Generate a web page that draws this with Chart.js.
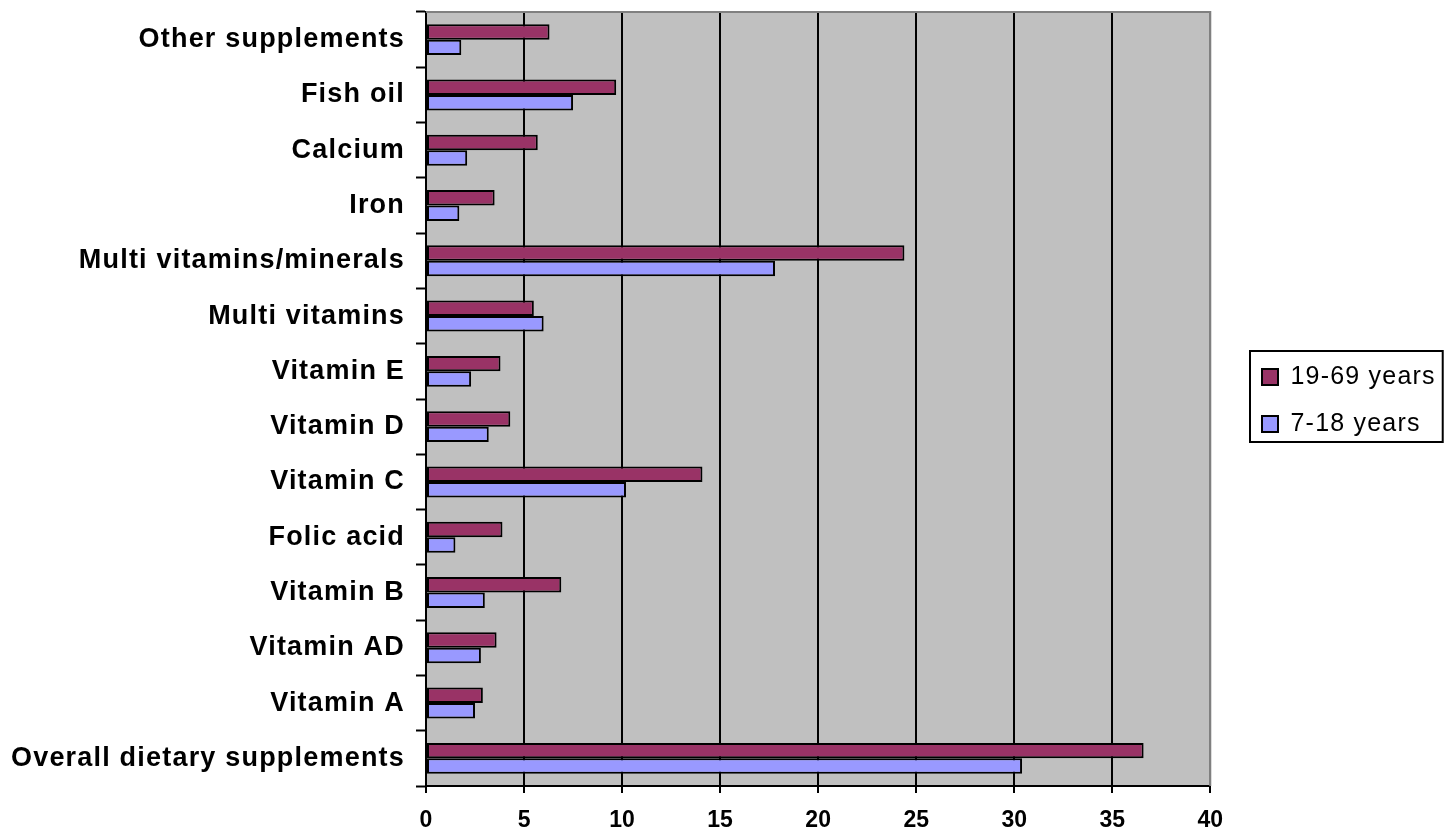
<!DOCTYPE html>
<html>
<head>
<meta charset="utf-8">
<script src="https://cdn.jsdelivr.net/npm/chart.js@4/dist/chart.umd.min.js"></script>
<style>
  html, body { margin: 0; padding: 0; background: #fff; }
  #wrap { width: 1450px; height: 837px; }
</style>
</head>
<body>
<div id="wrap"><canvas id="chart" width="1450" height="837"></canvas></div>
<script>
// Supplement categories, listed top to bottom
const categories = [
  'Other supplements', 'Fish oil', 'Calcium', 'Iron', 'Multi vitamins/minerals',
  'Multi vitamins', 'Vitamin E', 'Vitamin D', 'Vitamin C', 'Folic acid',
  'Vitamin B', 'Vitamin AD', 'Vitamin A', 'Overall dietary supplements'
];
// Percentage of users per age group
const adults = [6.3, 9.7, 5.7, 3.5, 24.4, 5.5, 3.8, 4.3, 14.1, 3.9, 6.9, 3.6, 2.9, 36.6];
const youth  = [1.8, 7.5, 2.1, 1.7, 17.8, 6.0, 2.3, 3.2, 10.2, 1.5, 3.0, 2.8, 2.5, 30.4];
const seriesNames = ['19-69 years', '7-18 years'];
// Value axis
const axisMin = 0, axisMax = 40, axisStep = 5;

const FONT = "'Liberation Sans', Arial, sans-serif";
Chart.defaults.color = '#000';
Chart.defaults.font.family = FONT;

// Wide tracking for category and legend labels, normal tracking for the value labels
const tracking = {
  id: 'tracking',
  beforeLayout(chart) { chart.ctx.letterSpacing = '1.2px'; },
  beforeDraw(chart) { chart.ctx.letterSpacing = '1.2px'; },
  afterDatasetsDraw(chart) { chart.ctx.letterSpacing = '0px'; }
};

// Grey plot area with a grey frame on top and right
const plotArea = {
  id: 'plotArea',
  beforeDraw(chart) {
    const { ctx, chartArea: a } = chart;
    ctx.save();
    ctx.fillStyle = '#C0C0C0';
    ctx.fillRect(a.left, a.top, a.right - a.left, a.bottom - a.top);
    ctx.restore();
  },
  afterDraw(chart) {
    const { ctx, chartArea: a } = chart;
    ctx.save();
    ctx.strokeStyle = '#808080';
    ctx.lineWidth = 2;
    ctx.beginPath();
    ctx.moveTo(a.left, a.top);
    ctx.lineTo(a.right, a.top);
    ctx.lineTo(a.right, a.bottom);
    ctx.stroke();
    ctx.restore();
  }
};

// Place the legend beside the plot and frame it
const legendFrame = {
  id: 'legendFrame',
  afterLayout(chart) {
    const lg = chart.legend;
    const w = lg.width, h = lg.height;
    lg.left = 1240; lg.right = lg.left + w;
    lg.top = 342.5; lg.bottom = lg.top + h;
  },
  afterDraw(chart) {
    const lg = chart.legend;
    const pad = lg.options.labels.padding;
    const fs = lg.options.labels.font.size;
    const maxW = Math.max(...lg.legendHitBoxes.map(b => b.width));
    const c1 = lg.top + pad + fs / 2;
    const c2 = c1 + fs + pad;
    const x0 = lg.left + 10, x1 = lg.left + pad + maxW + 7;
    const y0 = c1 - 26, y1 = c2 + 18;
    const ctx = chart.ctx;
    ctx.save();
    ctx.strokeStyle = '#000';
    ctx.lineWidth = 2;
    ctx.strokeRect(x0, y0, x1 - x0, y1 - y0);
    ctx.restore();
  }
};

new Chart(document.getElementById('chart'), {
  type: 'bar',
  data: {
    labels: categories,
    datasets: [
      { label: seriesNames[0], data: adults, backgroundColor: '#993366', borderColor: '#000', borderWidth: 2, borderSkipped: false },
      { label: seriesNames[1], data: youth,  backgroundColor: '#9999FF', borderColor: '#000', borderWidth: 2, borderSkipped: false }
    ]
  },
  options: {
    indexAxis: 'y',
    responsive: false,
    animation: false,
    events: [],
    categoryPercentage: 0.56,
    barPercentage: 1.0,
    layout: { padding: { top: 12, left: 0, right: 34, bottom: 0 } },
    scales: {
      x: {
        min: axisMin, max: axisMax,
        ticks: { z: 1, stepSize: axisStep, padding: 14, font: { size: 23, weight: 'bold' }, color: '#000' },
        grid: {
          color: c => (c.tick && c.tick.value === axisMax) ? '#808080' : '#000',
          lineWidth: 2,
          tickColor: '#000',
          tickLength: 7,
          tickWidth: 2
        },
        border: { color: '#000', width: 2 },
        afterFit(scale) { scale.height = 51; scale.paddingLeft = 0; scale.paddingRight = 0; }
      },
      y: {
        ticks: { padding: 11, font: { size: 27, weight: 'bold' }, color: '#000' },
        grid: {
          offset: true,
          drawOnChartArea: false,
          tickLength: 10,
          tickColor: '#000',
          tickWidth: 2
        },
        border: { color: '#000', width: 2 },
        afterFit(scale) { scale.width = 426; scale.paddingTop = 0; scale.paddingBottom = 0; }
      }
    },
    plugins: {
      tooltip: { enabled: false },
      legend: {
        position: 'right',
        align: 'start',
        labels: { boxWidth: 16, boxHeight: 16, padding: 22, font: { size: 25 }, color: '#000' }
      }
    }
  },
  plugins: [tracking, plotArea, legendFrame]
});
</script>
</body>
</html>
